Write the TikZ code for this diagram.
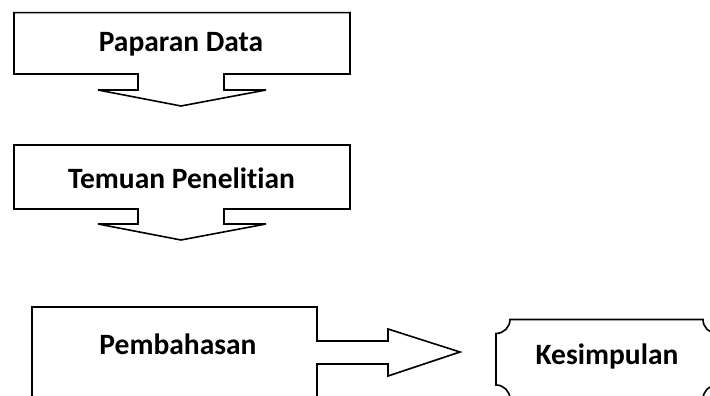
\documentclass[tikz,border=0pt]{standalone}
\usepackage{fontspec}
\setmainfont{Carlito}[RawFeature={-liga;-calt;-dlig}]

\begin{document}
\begin{tikzpicture}[x=1pt,y=1pt]
        \tikzset{
            kotak/.style={
                draw=black,
                line width=1.6pt,
                line join=miter,
                fill=white
            },
            teks/.style={
                anchor=base,
                inner sep=0pt,
                font=\fontsize{29.5}{34}\selectfont\bfseries
            }
        }
        \clip (0,0) rectangle (710,396);

        %kotak dengan panah bawah
        \draw[kotak] (14,383.3) -- (350,383.3) -- (350,322) -- (224,322) -- (224,306)
            -- (266,306) -- (181,290) -- (98,306) -- (138,306) -- (138,322)
            -- (14,322) -- cycle;
        \draw[kotak] (14,251) -- (350,251) -- (350,187) -- (224,187) -- (224,172)
            -- (266,172) -- (181,156) -- (98,172) -- (138,172) -- (138,187)
            -- (14,187) -- cycle;

        %kotak dengan panah kanan
        \draw[kotak] (32,-10) -- (32,89) -- (317,89) -- (317,55) -- (388,55)
            -- (388,67) -- (460,44) -- (388,20) -- (388,32) -- (317,32) -- (317,-10);

        %kotak sudut cekung
        \draw[kotak] (510,76.5) -- (703,76.5) arc[start angle=180, end angle=270, radius=14]
            -- (717,11) arc[start angle=90, end angle=180, radius=14]
            -- (510,-3) arc[start angle=0, end angle=90, radius=14]
            -- (496,62.5) arc[start angle=270, end angle=360, radius=14] -- cycle;

        \node[teks] (paparan) at (181,344) {Paparan Data};
        \node[teks] (temuan) at (181.5,207) {Temuan Penelitian};
        \node[teks] (pembahasan) at (178,41) {Pembahasan};
        \node[teks] (kesimpulan) at (607,31) {Kesimpulan};

    \end{tikzpicture}
\end{document}
